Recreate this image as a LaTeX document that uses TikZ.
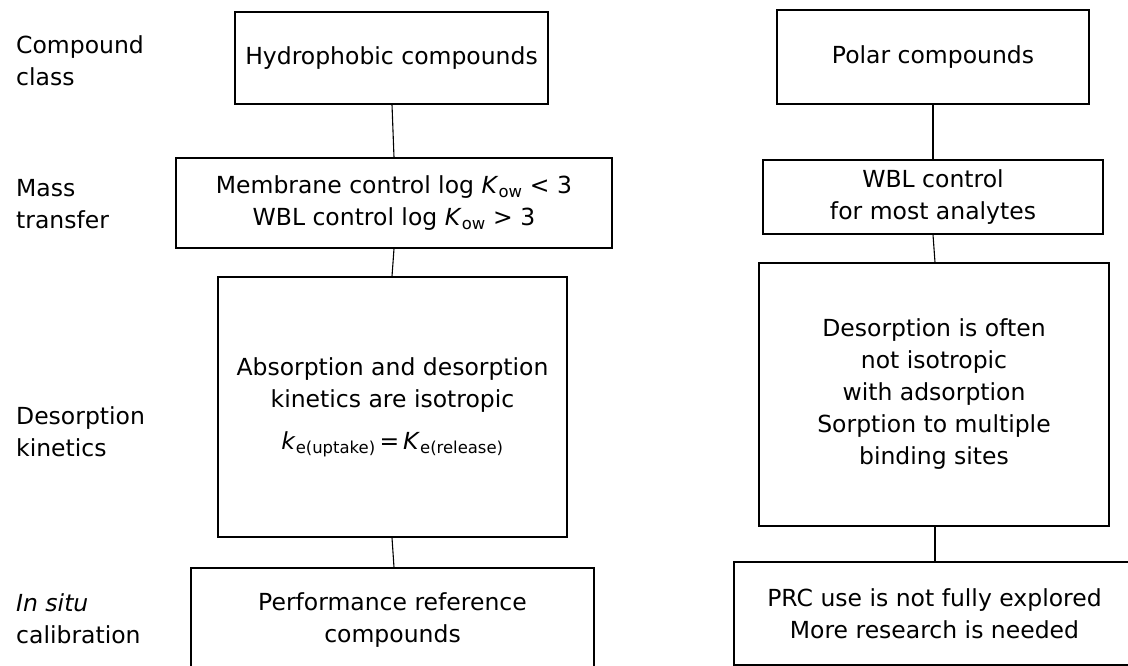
\documentclass[tikz,border=0pt]{standalone}
\usepackage{fontspec}
\setmainfont{DejaVu Sans}
\newcommand\mfont{\fontsize{23.5}{32}\selectfont}
\newcommand\Kow{\textit{K}\textsubscript{ow}}
\begin{document}
\begin{tikzpicture}[x=1pt,y=-1pt,
  box/.style={draw, line width=1.3pt, inner sep=0pt, align=center, font=\mfont},
  lbl/.style={anchor=west, align=left, inner sep=0pt, font=\mfont},
  conn/.style={line width=1.1pt}]
\useasboundingbox (0,0) rectangle (1128,666);
\fill[white] (0,0) rectangle (1128,666);
\clip (0,0) rectangle (1128,666);

% row labels
\node[lbl] (l1) at (16,61) {Compound\\class};
\node[lbl] (l2) at (16,204) {Mass\\transfer};
\node[lbl] (l3) at (16,432) {Desorption\\kinetics};
\node[lbl] (l4) at (16,619) {\textit{In situ}\\calibration};

% left column
\node[box, minimum width=313pt, minimum height=92pt] (b1) at (391.5,58) {Hydrophobic compounds};
\node[box, minimum width=436pt, minimum height=90pt] (b2) at (394,203)
  {Membrane control log \Kow{} < 3\\WBL control log \Kow{} > 3};
\node[box, minimum width=349pt, minimum height=260pt] (b3) at (392.5,407)
  {Absorption and desorption\\kinetics are isotropic\\[10pt]
   \textit{k}\textsubscript{e(uptake)}\,=\,\textit{K}\textsubscript{e(release)}};
\node[box, minimum width=403pt, minimum height=104pt] (b4) at (392.5,620)
  {Performance reference\\compounds};

% right column
\node[box, minimum width=312pt, minimum height=94pt] (r1) at (933,57) {Polar compounds};
\node[box, minimum width=340pt, minimum height=74pt] (r2) at (933,197)
  {WBL control\\for most analytes};
\node[box, minimum width=350pt, minimum height=263pt] (r3) at (934,394.5)
  {Desorption is often\\not isotropic\\with adsorption\\Sorption to multiple\\binding sites};
\node[box, minimum width=401pt, minimum height=103pt] (r4) at (934.5,613.5)
  {PRC use is not fully explored\\More research is needed};

% connectors
\draw[conn] ([xshift=0.5pt]b1.south) -- (b2.north);
\draw[conn] (b2.south) -- ([xshift=-0.5pt]b3.north);
\draw[conn] ([xshift=-0.5pt]b3.south) -- ([xshift=1.5pt]b4.north);
\draw[conn] (r1.south) -- (r2.north);
\draw[conn] (r2.south) -- ([xshift=1pt]r3.north);
\draw[conn] ([xshift=1pt]r3.south) -- ([xshift=0.5pt]r4.north);
\end{tikzpicture}
\end{document}
